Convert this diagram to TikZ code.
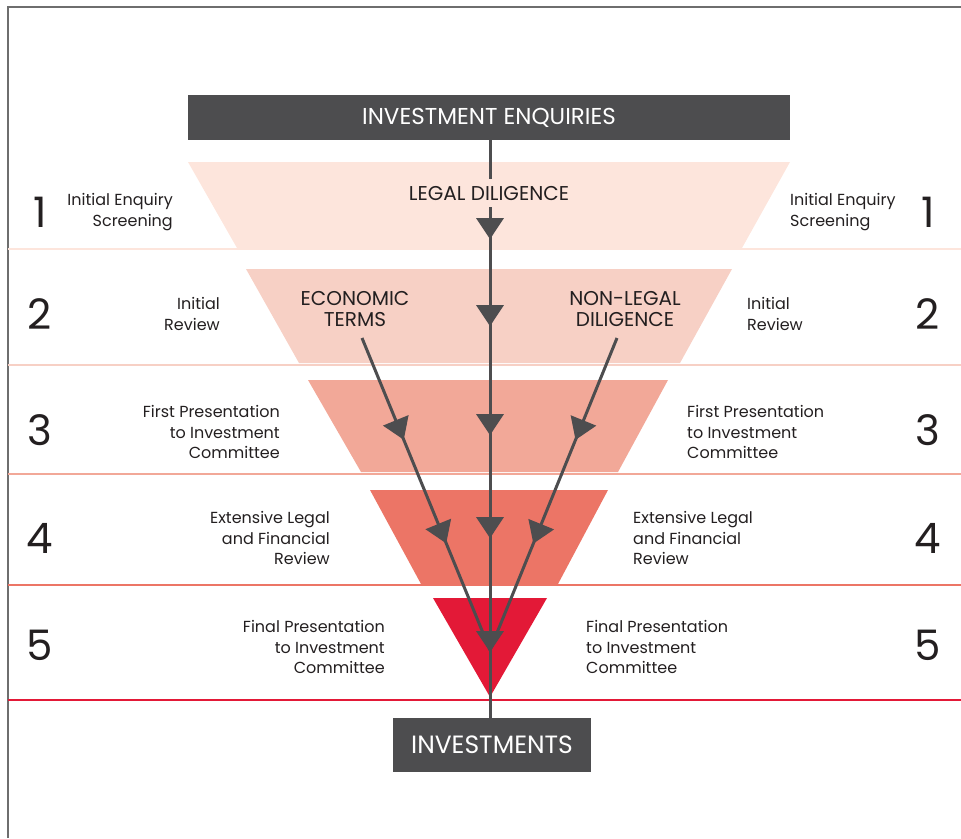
\documentclass[tikz,border=0pt]{standalone}
\usepackage{fontspec}
\setmainfont{Poppins}
\usetikzlibrary{arrows.meta,decorations.markings}
\definecolor{dark}{HTML}{4D4D4F}
\definecolor{txt}{HTML}{231F20}
\definecolor{frame}{HTML}{6E6E6E}
\definecolor{bandA}{HTML}{FDE5DC}
\definecolor{bandB}{HTML}{F7D0C5}
\definecolor{bandC}{HTML}{F2A898}
\definecolor{bandD}{HTML}{EC7566}
\definecolor{bandE}{HTML}{E31937}
\tikzset{
  darkbox/.style={fill=dark, text=white, inner sep=0pt},
  sidel/.style={font=\fontsize{16}{20.5}\selectfont, text=txt, align=right, anchor=east, inner sep=0pt},
  sider/.style={font=\fontsize{16}{20.5}\selectfont, text=txt, align=left, anchor=west, inner sep=0pt},
  numtxt/.style={font=\fontsize{42}{42}\selectfont, text=txt, inner sep=0pt},
  caption/.style={font=\fontsize{20}{21.5}\selectfont, text=txt, align=center, inner sep=0pt},
  conn/.style={draw=dark, line width=3pt},
  tri/.tip={Triangle[width=27pt,length=21pt]},
  centermarks/.style={postaction={decorate, decoration={markings,
    mark=at position 32pt with {\arrow[dark]{tri}},
    mark=at position 119pt with {\arrow[dark]{tri}},
    mark=at position 228pt with {\arrow[dark]{tri}},
    mark=at position 331pt with {\arrow[dark]{tri}},
    mark=at position 445pt with {\arrow[dark]{tri}}}}},
  diagmarks/.style={postaction={decorate, decoration={markings,
    mark=at position 110pt with {\arrow[dark]{tri}},
    mark=at position 222pt with {\arrow[dark]{tri}}}}},
}
\begin{document}
\begin{tikzpicture}[x=1pt,y=-1pt]
\useasboundingbox (0,0) rectangle (961,838);
% frame
\draw[frame, line width=2pt] (8,838) -- (8,7) -- (961,7);
% separators
\draw[bandA, line width=2pt] (8,249) -- (961,249);
\draw[bandB, line width=2pt] (8,365) -- (961,365);
\draw[bandC, line width=2pt] (8,474) -- (961,474);
\draw[bandD, line width=2pt] (8,585) -- (961,585);
\draw[bandE, line width=1.5pt] (8,700) -- (961,700);
% bands
\fill[bandA] (188,162) -- (790,162) -- (742,248) -- (237,248) -- cycle;
\fill[bandB] (246,269) -- (732,269) -- (680,363) -- (299,363) -- cycle;
\fill[bandC] (308,380) -- (668,380) -- (618,472) -- (361,472) -- cycle;
\fill[bandD] (370,490) -- (608,490) -- (558,584) -- (421,584) -- cycle;
\fill[bandE] (433,598) -- (547,598) -- (490,697) -- cycle;
% boxes
\node[darkbox, minimum width=602pt, minimum height=45pt, font=\fontsize{23}{23}\selectfont] (enq) at (489,117.5) {INVESTMENT ENQUIRIES};
\node[darkbox, minimum width=198pt, minimum height=54pt, font=\fontsize{25}{25}\selectfont] (inv) at (492,745) {INVESTMENTS};
% captions
\node[caption, minimum height=28pt] (legal) at (489,193) {LEGAL DILIGENCE};
\node[caption] (econ) at (355,309) {ECONOMIC\\TERMS};
\node[caption] (nonlegal) at (625,309) {NON-LEGAL\\DILIGENCE};
\coordinate (econS) at (362,338);
\coordinate (nonlS) at (617,338);
\coordinate (meet) at (490,650);
% connectors
\draw[conn] (enq.south -| 490,0) -- (legal.north -| 490,0);
\draw[conn, centermarks] (legal.south -| 490,0) -- (inv.north -| 490,0);
\draw[conn, diagmarks] (econS) -- (meet);
\draw[conn, diagmarks] (nonlS) -- (meet);
% numbers
\node[numtxt] (n1l) at (40,212) {1};
\node[numtxt] (n2l) at (40,314) {2};
\node[numtxt] (n3l) at (40,430) {3};
\node[numtxt] (n4l) at (40,538) {4};
\node[numtxt] (n5l) at (40,645) {5};
\node[numtxt] (n1r) at (928,212) {1};
\node[numtxt] (n2r) at (928,314) {2};
\node[numtxt] (n3r) at (928,430) {3};
\node[numtxt] (n4r) at (928,538) {4};
\node[numtxt] (n5r) at (928,645) {5};
% side labels
\node[sidel] (s1l) at (173,212) {Initial Enquiry\\Screening};
\node[sidel] (s2l) at (220,314) {Initial\\Review};
\node[sidel] (s3l) at (280,432) {First Presentation\\to Investment\\Committee};
\node[sidel] (s4l) at (330,538) {Extensive Legal\\and Financial\\Review};
\node[sidel] (s5l) at (385,647) {Final Presentation\\to Investment\\Committee};
\node[sider] (s1r) at (790,212) {Initial Enquiry\\Screening};
\node[sider] (s2r) at (747,314) {Initial\\Review};
\node[sider] (s3r) at (687,432) {First Presentation\\to Investment\\Committee};
\node[sider] (s4r) at (633,538) {Extensive Legal\\and Financial\\Review};
\node[sider] (s5r) at (586,647) {Final Presentation\\to Investment\\Committee};
\end{tikzpicture}
\end{document}
